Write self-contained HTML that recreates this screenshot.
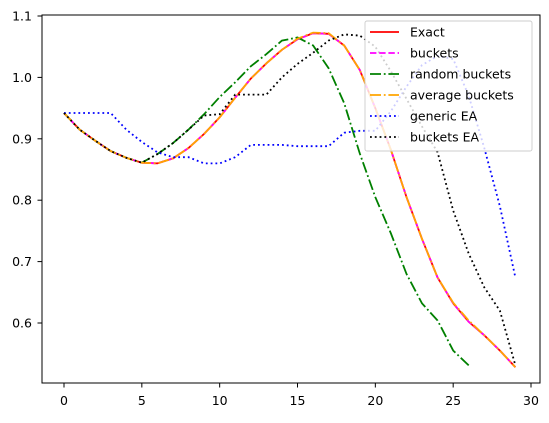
<!DOCTYPE html>
<html><head><meta charset="utf-8"><style>
body{margin:0;background:#fff;}
svg text{font-family:"DejaVu Sans","Liberation Sans",sans-serif;font-size:12.5px;fill:#000;}
</style></head><body>
<svg id="chart" width="549" height="418" xmlns="http://www.w3.org/2000/svg">
<rect x="42" y="15" width="498" height="368" fill="#fff" stroke="none"/>
<g id="series"></g>
<g id="axes"></g>
<rect x="42" y="15" width="498" height="368" fill="none" stroke="#000" stroke-width="1"/>
<g id="legend"></g>
</svg>
<script>
const xs = [0,1,2,3,4,5,6,7,8,9,10,11,12,13,14,15,16,17,18,19,20,21,22,23,24,25,26,27,28,29];
const exact = [0.942,0.915,0.897,0.880,0.869,0.861,0.860,0.868,0.885,0.908,0.935,0.967,0.998,1.023,1.045,1.062,1.072,1.071,1.052,1.012,0.950,0.882,0.805,0.737,0.674,0.632,0.602,0.580,0.555,0.528];
const buckets = [0.942,0.915,0.897,0.880,0.869,0.861,0.860,0.868,0.885,0.908,0.935,0.967,0.998,1.023,1.045,1.062,1.072,1.071,1.052,1.012,0.950,0.882,0.805,0.737,0.674,0.632,0.602,0.580,0.555,0.528];
const randomBuckets = [0.942,0.915,0.897,0.880,0.869,0.861,0.875,0.893,0.915,0.940,0.968,0.992,1.018,1.038,1.060,1.065,1.052,1.015,0.958,0.876,0.805,0.746,0.680,0.632,0.604,0.555,0.531];
const averageBuckets = [0.942,0.915,0.897,0.880,0.869,0.861,0.860,0.868,0.885,0.908,0.935,0.967,0.998,1.023,1.045,1.063,1.073,1.072,1.052,1.012,0.950,0.882,0.805,0.737,0.674,0.633,0.604,0.580,0.555,0.528];
const genericEA = [0.942,0.942,0.942,0.942,0.915,0.895,0.878,0.870,0.870,0.860,0.860,0.870,0.890,0.890,0.890,0.888,0.888,0.888,0.910,0.913,0.913,0.945,0.985,1.020,1.035,1.030,0.970,0.885,0.790,0.674];
const bucketsEA = [0.942,0.915,0.897,0.880,0.869,0.861,0.875,0.893,0.915,0.938,0.940,0.972,0.972,0.972,1.000,1.022,1.040,1.060,1.070,1.068,1.050,1.010,0.965,0.920,0.878,0.783,0.713,0.658,0.620,0.531];
const xTicks = [0,5,10,15,20,25,30];
const yTicks = [0.6,0.7,0.8,0.9,1.0,1.1];
const yTickLabels = ["0.6","0.7","0.8","0.9","1.0","1.1"];
const seriesNames = ["Exact","buckets","random buckets","average buckets","generic EA","buckets EA"];

const X = v => 64 + v*15.567;
const Y = v => 323 - (v-0.6)*614;
const NS = "http://www.w3.org/2000/svg";
function mk(tag, attrs, parent){const e=document.createElementNS(NS,tag);for(const k in attrs)e.setAttribute(k,attrs[k]);parent.appendChild(e);return e;}

const axes = document.getElementById('axes');
xTicks.forEach(t=>{
  const l = mk('line',{x1:X(t),x2:X(t),y1:383,y2:387.5,stroke:'#000','stroke-width':1},axes);
  
  
  const tx = mk('text',{x:X(t),y:405,'text-anchor':'middle'},axes);
  tx.textContent = t;
  
  
});
yTicks.forEach((t,i)=>{
  const l = mk('line',{x1:37.5,x2:42,y1:Y(t),y2:Y(t),stroke:'#000','stroke-width':1},axes);
  
  
  const tx = mk('text',{x:32,y:Y(t)+4.5,'text-anchor':'end'},axes);
  tx.textContent = yTickLabels[i];
  
  
});

const styles = [
  {c:'#ff0000',d:''},
  {c:'#ff00ff',d:'6.4,2.8'},
  {c:'#008000',d:'11,2.8,1.8,2.8'},
  {c:'#ffa500',d:'11,2.8,1.8,2.8'},
  {c:'#0000ff',d:'1.8,3'},
  {c:'#000000',d:'1.8,3'}
];
const data = [exact,buckets,randomBuckets,averageBuckets,genericEA,bucketsEA];
const sNames = ['series-exact','series-buckets','series-random-buckets','series-average-buckets','series-generic-ea','series-buckets-ea'];
const sg = document.getElementById('series');
data.forEach((arr,i)=>{
  const pts = arr.map((v,j)=>X(xs[j]).toFixed(1)+','+Y(v).toFixed(1)).join(' ');
  const p = mk('polyline',{points:pts,fill:'none',stroke:styles[i].c,'stroke-width':1.8,'stroke-dasharray':styles[i].d},sg);
  
  
});

const lg = document.getElementById('legend');
const box = mk('rect',{x:365,y:21,width:167,height:130,rx:2,fill:'#fff','fill-opacity':0.8,stroke:'#ccc','stroke-width':0.9},lg);


seriesNames.forEach((n,i)=>{
  const y = 32 + i*21;
  const l = mk('line',{x1:370,x2:399,y1:y,y2:y,stroke:styles[i].c,'stroke-width':1.8,'stroke-dasharray':styles[i].d},lg);
  
  
  const t = mk('text',{x:410,y:y+4.5},lg);
  t.textContent = n;
  
  
});
</script>
</body></html>
